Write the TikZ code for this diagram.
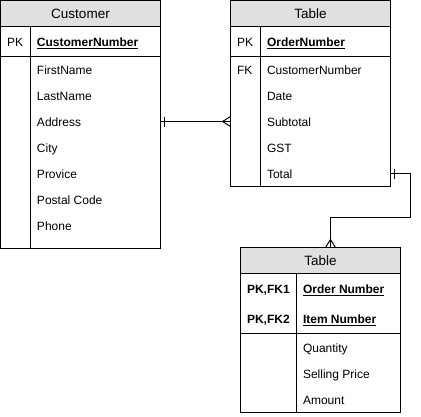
\documentclass[tikz,border=0pt]{standalone}
\usepackage{fontspec}
\setmainfont{Liberation Sans}
\usetikzlibrary{calc}
\definecolor{hdrgray}{RGB}{224,224,224}
\newcommand\myul[1]{\setbox0\hbox{#1}\rlap{\vrule width\wd0 height -1.3pt depth 2.3pt}\box0}
\begin{document}
\begin{tikzpicture}[x=1pt,y=-1pt,line width=1pt,
  hdr/.style={draw,fill=hdrgray,anchor=north west,inner sep=0pt,outer sep=0pt,
    minimum height=26,text height=9.7pt,text depth=0pt,font=\fontsize{13.5}{16}\selectfont},
  sec/.style={draw,anchor=north west,inner sep=0pt,outer sep=0pt},
  fld/.style={anchor=west,inner sep=0pt,text height=8.6pt,text depth=0pt,font=\fontsize{12}{14}\selectfont},
  key/.style={fld,font=\fontsize{12}{14}\selectfont\bfseries}]
\useasboundingbox (0,0) rectangle (421,416);

% ---------- Customer ----------
\node[hdr,minimum width=160] (custH) at (0.5,0.5) {Customer};
\node[sec,minimum width=160,minimum height=30] (custK) at (custH.south west) {};
\node[sec,minimum width=160,minimum height=192] (custB) at (custK.south west) {};
\draw ([xshift=30pt]custK.north west) -- ([xshift=30pt]custB.south west);
\node[fld] (cPK) at (6.5,42) {PK};
\node[key] (cNum) at (36.5,42) {\myul{CustomerNumber}};
\node[fld] (cFirst) at (36.5,70) {FirstName};
\node[fld] (cLast) at (36.5,96) {LastName};
\node[fld] (cAddr) at (36.5,122) {Address};
\node[fld] (cCity) at (36.5,148) {City};
\node[fld] (cProv) at (36.5,174) {Provice};
\node[fld] (cPost) at (36.5,200) {Postal Code};
\node[fld] (cPhone) at (36.5,226) {Phone};

% ---------- Order table ----------
\node[hdr,minimum width=160] (ordH) at (230.5,0.5) {Table};
\node[sec,minimum width=160,minimum height=30] (ordK) at (ordH.south west) {};
\node[sec,minimum width=160,minimum height=130] (ordB) at (ordK.south west) {};
\draw ([xshift=30pt]ordK.north west) -- ([xshift=30pt]ordB.south west);
\node[fld] (oPK) at (236.5,42) {PK};
\node[key] (oNum) at (266.5,42) {\myul{OrderNumber}};
\node[fld] (oFK) at (236.5,70) {FK};
\node[fld] (oCust) at (266.5,70) {CustomerNumber};
\node[fld] (oDate) at (266.5,96) {Date};
\node[fld] (oSub) at (266.5,122) {Subtotal};
\node[fld] (oGST) at (266.5,148) {GST};
\node[fld] (oTotal) at (266.5,174) {Total};

% ---------- Item table ----------
\node[hdr,minimum width=160] (itemH) at (240.5,247.5) {Table};
\node[sec,minimum width=160,minimum height=60] (itemK) at (itemH.south west) {};
\node[sec,minimum width=160,minimum height=79] (itemB) at (itemK.south west) {};
\draw ([xshift=56pt]itemK.north west) -- ([xshift=56pt]itemB.south west);
\node[key] (iK1) at (246.5,289) {PK,FK1};
\node[key] (iOrd) at (302.5,289) {\myul{Order Number}};
\node[key] (iK2) at (246.5,319) {PK,FK2};
\node[key] (iItem) at (302.5,319) {\myul{Item Number}};
\node[fld] (iQty) at (302.5,348) {Quantity};
\node[fld] (iPrice) at (302.5,374) {Selling Price};
\node[fld] (iAmt) at (302.5,400) {Amount};

% ---------- Connectors ----------
% Customer (one) -- Order (many)
\coordinate (c1a) at (custB.east |- 0,121.5);
\coordinate (c1b) at (ordB.west |- 0,121.5);
\draw (c1a) -- (c1b);
\draw ([xshift=4pt]c1a) ++(0,-5) -- ++(0,10);
\draw ([xshift=-8pt]c1b) -- ++(8,-5) ([xshift=-8pt]c1b) -- ++(8,5);

% Order (one) -- Item (many)
\coordinate (c2a) at (ordB.east |- 0,173.5);
\coordinate (c2bend) at (410.5,217.5);
\coordinate (c2b) at ([xshift=10pt]itemH.north);
\draw (c2a) -| (c2bend) -| (c2b);
\draw ([xshift=4pt]c2a) ++(0,-5) -- ++(0,10);
\draw ([yshift=8pt]c2b) -- ++(-5,8) ([yshift=8pt]c2b) -- ++(5,8);
\end{tikzpicture}
\end{document}
